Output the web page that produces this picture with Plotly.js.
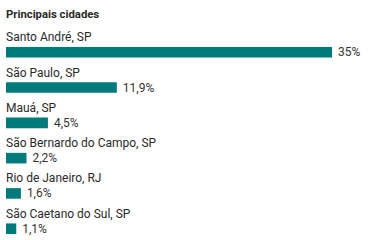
<!DOCTYPE html>
<html><head><meta charset="utf-8">
<script src="https://cdn.plot.ly/plotly-3.0.1.min.js"></script>
<style>html,body{margin:0;padding:0;background:#fff}#c{width:368px;height:240px}</style>
</head><body><div id="c"></div>
<script>
const cities = ["Santo André, SP","São Paulo, SP","Mauá, SP","São Bernardo do Campo, SP","Rio de Janeiro, RJ","São Caetano do Sul, SP"];
const shares = [35, 11.9, 4.5, 2.2, 1.6, 1.1];
const title = "Principais cidades";

const labels = shares.map(v => String(v).replace('.', ',') + '%');
const font = "Roboto, sans-serif";
const annotations = cities.map((c, i) => ({
  x: 0, y: i, xref: 'x', yref: 'y', text: c, showarrow: false,
  xanchor: 'left', yanchor: 'middle', yshift: 15, xshift: -2,
  font: {family: font, size: 12, color: '#2a2a2a'}
}));
annotations.push({x: 0, y: 1, xref: 'paper', yref: 'paper', text: '<b>' + title + '</b>', showarrow: false,
  xanchor: 'left', yanchor: 'middle', yshift: 3, xshift: -2, font: {family: font, size: 11.3, color: '#2a2a2a'}});
Plotly.newPlot('c', [{
  type: 'bar', orientation: 'h', x: shares, y: cities.map((c,i)=>i),
  marker: {color: '#007A7A'}, width: 0.3,
  text: labels.map(t => '\u00a0' + t), textposition: 'outside', constraintext: 'none', cliponaxis: false,
  textfont: {family: font, size: 12, color: '#333'}, hoverinfo: 'none'
}], {
  width: 368, height: 240,
  margin: {l: 6, r: 0, t: 17, b: 0},
  paper_bgcolor: '#fff', plot_bgcolor: '#fff',
  showlegend: false,
  xaxis: {range: [0, 362/9.314], visible: false, fixedrange: true},
  yaxis: {range: [5.32, -1], visible: false, fixedrange: true},
  annotations: annotations
}, {displayModeBar: false, staticPlot: true});
</script></body></html>
